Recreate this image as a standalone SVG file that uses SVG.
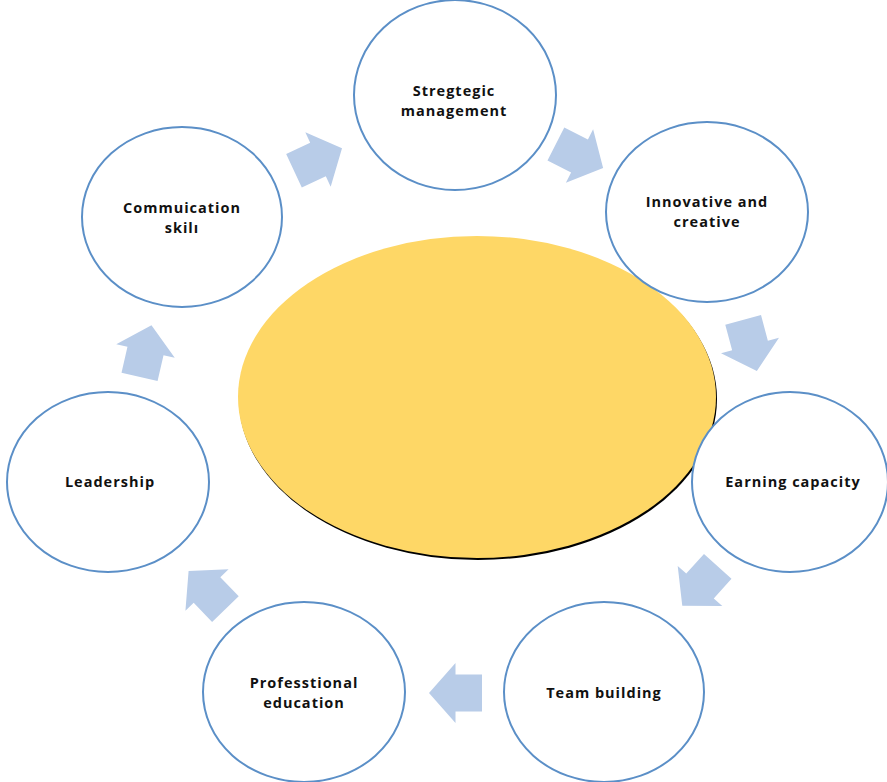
<svg xmlns="http://www.w3.org/2000/svg" width="887" height="782" viewBox="0 0 887 782">
<style>
.node{fill:#ffffff;stroke:#5b8fc7;stroke-width:2}
.lbl{font-family:"Open Sans","Liberation Sans",sans-serif;font-weight:bold;font-size:14.5px;letter-spacing:1px;fill:#111;text-anchor:middle}
.arr{fill:#b8cce8}
</style>
<defs>
<path id="blk" d="M-26.5,-18.5 L0,-18.5 L0,-30 L26.5,0 L0,30 L0,18.5 L-26.5,18.5 Z"/>
</defs>
<rect width="887" height="782" fill="#ffffff"/>
<g id="center">
<ellipse cx="478" cy="399" rx="239" ry="161" fill="#000"/>
<ellipse cx="477" cy="397" rx="239" ry="161" fill="#fed766"/>
</g>
<g id="n-strategic"><ellipse class="node" cx="455" cy="95" rx="101" ry="95"/><text class="lbl" x="454" y="95.5">Stregtegic</text><text class="lbl" x="454" y="115.5">management</text></g>
<g id="n-innovative"><ellipse class="node" cx="707" cy="212" rx="101" ry="90"/><text class="lbl" x="707" y="206.5">Innovative and</text><text class="lbl" x="707" y="226.5">creative</text></g>
<g id="n-earning"><ellipse class="node" cx="790" cy="482" rx="98" ry="90"/><text class="lbl" x="793" y="487">Earning capacity</text></g>
<g id="n-team"><ellipse class="node" cx="604" cy="692" rx="100" ry="90"/><text class="lbl" x="604" y="698">Team building</text></g>
<g id="n-prof"><ellipse class="node" cx="304" cy="692" rx="101" ry="90"/><text class="lbl" x="304" y="687.5">Professtional</text><text class="lbl" x="304" y="707.5">education</text></g>
<g id="n-leader"><ellipse class="node" cx="108" cy="482" rx="101" ry="90"/><text class="lbl" x="110" y="487">Leadership</text></g>
<g id="n-comm"><ellipse class="node" cx="182" cy="217" rx="100" ry="90"/><text class="lbl" x="182" y="212.5">Commuication</text><text class="lbl" x="182" y="232.5">skilı</text></g>
<g id="connectors">
<use href="#blk" class="arr" transform="translate(318,159.5) rotate(-25)"/>
<use href="#blk" class="arr" transform="translate(579.5,156) rotate(27)"/>
<use href="#blk" class="arr" transform="translate(750,345.5) rotate(75)"/>
<use href="#blk" class="arr" transform="translate(700,586) rotate(132)"/>
<use href="#blk" class="arr" transform="translate(455.5,693) rotate(180)"/>
<use href="#blk" class="arr" transform="translate(207,590) rotate(-134)"/>
<use href="#blk" class="arr" transform="translate(145.5,351) rotate(-77)"/>
</g>
</svg>
